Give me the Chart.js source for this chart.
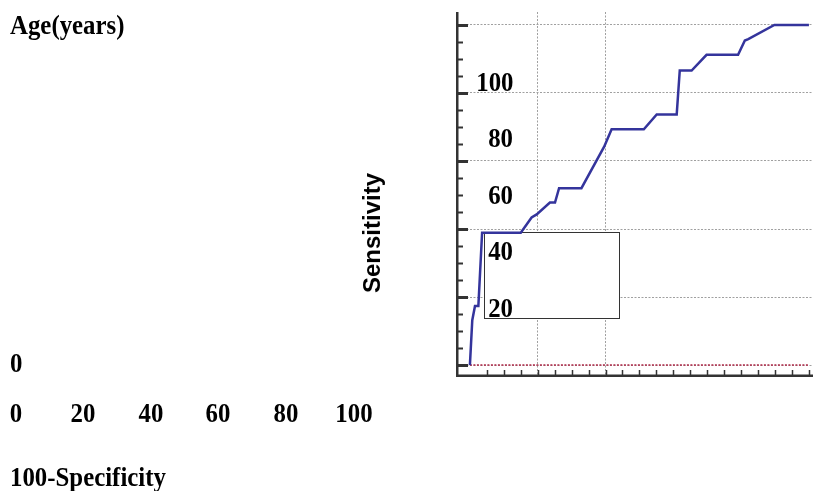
<!DOCTYPE html>
<html>
<head>
<meta charset="utf-8">
<script src="https://cdn.jsdelivr.net/npm/chart.js@4"></script>
<style>
  html, body { margin: 0; padding: 0; background: #fff; }
  #wrap { position: relative; width: 813px; height: 491px; overflow: hidden; }
  #rocChart { position: absolute; left: 0; top: 0; }
  .lbl { position: absolute; font: bold 27px "Liberation Serif", "Times New Roman", serif; line-height: 27px; color: #000; white-space: nowrap; }
  .axisTitle { position: absolute; font: bold 24px "Liberation Sans", Arial, sans-serif; line-height: 24px; color: #000; white-space: nowrap; }
</style>
</head>
<body>
<div id="wrap">
  <canvas id="rocChart" width="813" height="491"></canvas>
</div>
<script>
// ROC curve
const fprValues  = [0, 0.7, 1.5, 2.5, 3.6, 15.0, 18.2, 19.7, 23.6, 25.1, 26.3, 32.9, 39.6, 41.8, 51.3, 55.1, 61.0, 61.9, 65.4, 69.8, 79.1, 81.1, 82.1, 89.8, 100];
const sensValues = [0, 13.2, 17.4, 17.4, 38.9, 38.9, 43.4, 44.3, 47.8, 47.8, 52, 52, 64.2, 69.3, 69.3, 73.7, 73.7, 86.6, 86.6, 91.2, 91.2, 95.4, 95.8, 100, 100];
// reference line (drawn flat at zero in the picture)
const refX = [0, 100];
const refY = [0, 0];
// tick labels
const yTickLabels = ['100', '80', '60', '40', '20', '0'];
const xTickLabels = ['0', '20', '40', '60', '80', '100'];
const hGridValues = [0, 20, 40, 60, 80, 100];
const vGridValues = [20, 40];

const wrap = document.getElementById('wrap');
const squeeze = 'scaleX(0.92)';

// helper: place a text label by its baseline
function addLabel(text, x, baseline, align) {
  const d = document.createElement('div');
  d.className = 'lbl';
  d.textContent = text;
  d.style.top = (baseline - 22.6) + 'px';
  if (align === 'right') {
    d.style.right = (813 - x) + 'px';
    d.style.transformOrigin = '100% 50%';
    d.style.transform = squeeze;
  } else if (align === 'center') {
    d.style.left = x + 'px';
    d.style.transformOrigin = '50% 50%';
    d.style.transform = 'translateX(-50%) ' + squeeze;
  } else {
    d.style.left = x + 'px';
    d.style.transformOrigin = '0 50%';
    d.style.transform = squeeze;
  }
  wrap.appendChild(d);
}

// the inward tick marks, axis lines and the empty legend box
const axisDecor = {
  id: 'axisDecor',
  beforeDatasetsDraw(chart) {
    const { ctx, chartArea: a, scales: { x, y } } = chart;
    ctx.save();
    // empty legend box
    ctx.fillStyle = '#fff';
    ctx.strokeStyle = '#333';
    ctx.lineWidth = 1;
    ctx.fillRect(484, 232, 136, 87);
    ctx.strokeRect(484.5, 232.5, 135, 86);

    ctx.strokeStyle = '#333';
    // y ticks
    for (let v = 0; v <= 100; v += 5) {
      const py = Math.round(y.getPixelForValue(v)) + 0.5;
      const major = v % 20 === 0;
      ctx.lineWidth = major ? 3 : 2;
      ctx.beginPath();
      ctx.moveTo(a.left, py);
      ctx.lineTo(a.left + (major ? 12 : 7), py);
      ctx.stroke();
    }
    // x ticks
    ctx.lineWidth = 1.5;
    for (let v = 5; v <= 100; v += 5) {
      const px = Math.round(x.getPixelForValue(v)) + 0.5;
      ctx.beginPath();
      ctx.moveTo(px, a.bottom - 2);
      ctx.lineTo(px, a.bottom - 7);
      ctx.stroke();
    }
    // axis lines
    ctx.lineWidth = 2.5;
    ctx.beginPath();
    ctx.moveTo(a.left + 1.25, a.top);
    ctx.lineTo(a.left + 1.25, a.bottom);
    ctx.moveTo(a.left, a.bottom - 1.25);
    ctx.lineTo(a.right, a.bottom - 1.25);
    ctx.stroke();
    ctx.restore();
  }
};

const ctx = document.getElementById('rocChart').getContext('2d');

new Chart(ctx, {
  type: 'scatter',
  data: {
    datasets: [
      {
        data: fprValues.map((v, i) => ({ x: v, y: sensValues[i] })),
        showLine: true,
        borderColor: '#34349c',
        borderWidth: 2.5,
        pointRadius: 0,
        fill: false
      },
      {
        data: refX.map((v, i) => ({ x: v, y: refY[i] })),
        showLine: true,
        borderColor: '#b02848',
        borderWidth: 1.5,
        borderDash: [2, 1.5],
        pointRadius: 0,
        fill: false
      }
    ]
  },
  options: {
    responsive: false,
    animation: false,
    layout: { padding: { left: 456, top: 12, right: 0, bottom: 114 } },
    plugins: { legend: { display: false }, tooltip: { enabled: false } },
    scales: {
      x: {
        type: 'linear',
        min: -4.1,
        max: 101.2,
        afterBuildTicks: s => { s.ticks = vGridValues.map(v => ({ value: v })); },
        ticks: { display: false },
        grid: { drawTicks: false, color: '#a0a0a0', lineWidth: 1 },
        border: { display: false, dash: [2, 1.5] }
      },
      y: {
        type: 'linear',
        min: -3.5,
        max: 103.8,
        afterBuildTicks: s => { s.ticks = hGridValues.map(v => ({ value: v })); },
        ticks: { display: false },
        grid: { drawTicks: false, color: '#a0a0a0', lineWidth: 1 },
        border: { display: false, dash: [2, 1.5] }
      }
    }
  },
  plugins: [axisDecor]
});

// stray labels, placed where the picture has them
addLabel('Age(years)', 10, 35);
yTickLabels.forEach((t, i) => {
  const base = 91.5 + i * 56.5;
  if (i < yTickLabels.length - 1) addLabel(t, 513, base, 'right');
  else addLabel(t, 10, base - 1);
});
xTickLabels.forEach((t, i) => addLabel(t, 15.5 + i * 67.6, 423, 'center'));
addLabel('100-Specificity', 10, 487);

const title = document.createElement('div');
title.className = 'axisTitle';
title.textContent = 'Sensitivity';
title.style.left = '371.5px';
title.style.top = '232.5px';
title.style.transform = 'translate(-50%, -50%) rotate(-90deg)';
wrap.appendChild(title);
</script>
</body>
</html>
